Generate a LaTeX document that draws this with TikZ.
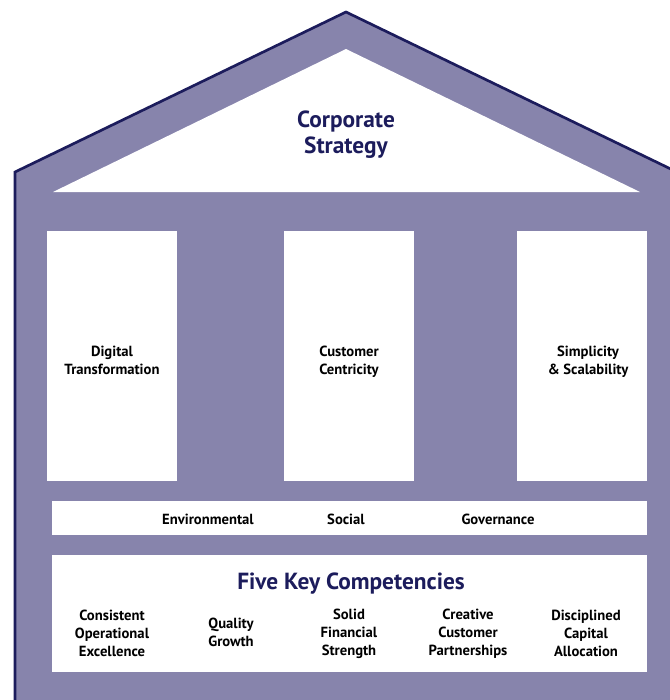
\documentclass[tikz,border=0pt]{standalone}
\usepackage{fontspec}
\setmainfont{PT Sans}
\usetikzlibrary{positioning}

\definecolor{wallgray}{HTML}{8784AC}
\definecolor{roofnavy}{HTML}{1C1C5C}

\begin{document}
\begin{tikzpicture}[x=0.75pt, y=-0.75pt,
    panel/.style={fill=white, draw=none},
    txt/.style={font=\bfseries\fontsize{11}{13.5}\selectfont, align=center, text=black, inner sep=0pt},
    head/.style={font=\bfseries\fontsize{17.5}{19.5}\selectfont, align=center, text=roofnavy, inner sep=0pt}]
    \useasboundingbox (0,0) rectangle (670,700);

    % building body and roof outline
    \fill[wallgray] (15,172) -- (346,12) -- (677,172) -- (677,710) -- (15,710) -- cycle;
    \draw[roofnavy, line width=2pt, line join=miter] (15,710) -- (15,172) -- (346,12) -- (677,172);

    % pediment
    \fill[panel] (53,192) -- (346,49) -- (640,192) -- cycle;
    \node (strategy) [head] at (346,135) {Corporate\\Strategy};

    % pillars
    \fill[panel] (47,231) rectangle (177,481);
    \fill[panel] (284,231) rectangle (414,481);
    \fill[panel] (517,231) rectangle (647,481);
    \node (digital) [txt] at (112,360) {Digital\\Transformation};
    \node (customer) [txt] at (349,362) {Customer\\Centricity};
    \node (simple) [txt] at (588,362) {Simplicity\\\& Scalability};

    % ESG band
    \fill[panel] (52,501) rectangle (647,535);
    \node (env) [txt] at (208,519) {Environmental};
    \node (social) [txt] at (346,519) {Social};
    \node (gov) [txt] at (498,519) {Governance};

    % competencies
    \fill[panel] (52,555) rectangle (647,672);
    \node (five) [head] at (351,584) {Five Key Competencies};
    \node (ops) [txt] at (112,633) {Consistent\\Operational\\Excellence};
    \node (quality) [txt] at (231,632) {Quality\\Growth};
    \node (solid) [txt] at (349,634) {Solid\\Financial\\Strength};
    \node (creative) [txt] at (468,634) {Creative\\Customer\\Partnerships};
    \node (capital) [txt] at (586,633) {Disciplined\\Capital\\Allocation};
\end{tikzpicture}
\end{document}
